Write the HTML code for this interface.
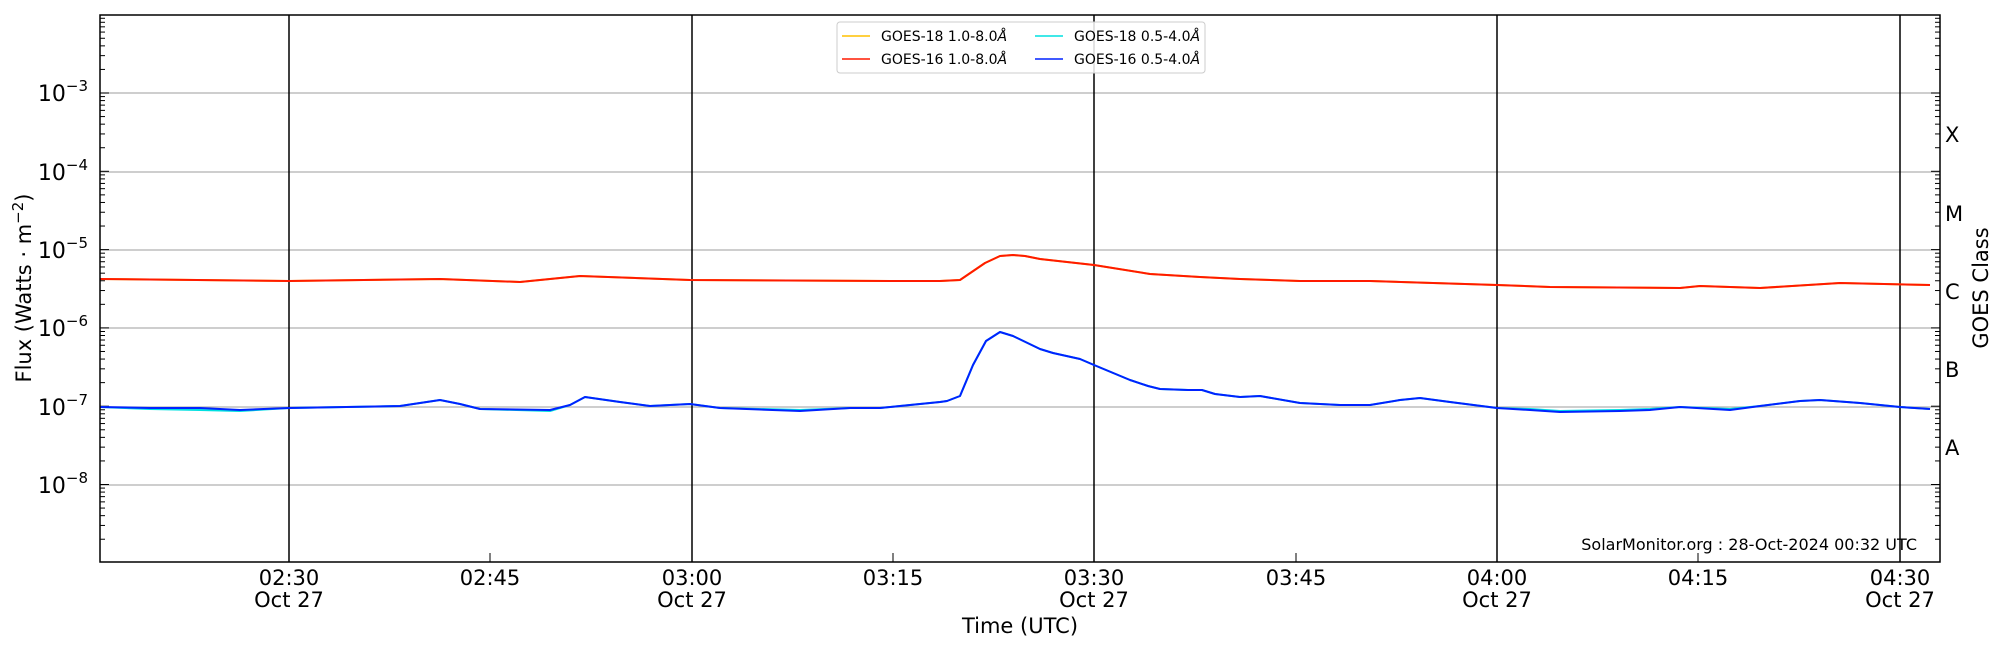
<!DOCTYPE html>
<html><head><meta charset="utf-8"><style>
html,body{margin:0;padding:0;background:#fff;}
svg{display:block;font-family:"DejaVu Sans","Liberation Sans",sans-serif;}
</style></head><body>
<svg id="s" width="2000" height="650" viewBox="0 0 2000 650" xmlns="http://www.w3.org/2000/svg">
<rect width="2000" height="650" fill="#fff"/>
<g stroke="#b0b0b0" stroke-width="1.2">
<line x1="100" x2="1940" y1="93" y2="93"/><line x1="100" x2="1940" y1="172" y2="172"/>
<line x1="100" x2="1940" y1="250" y2="250"/><line x1="100" x2="1940" y1="328" y2="328"/>
<line x1="100" x2="1940" y1="407" y2="407"/><line x1="100" x2="1940" y1="485" y2="485"/>
</g>
<g stroke="#000" stroke-width="1.5">
<line x1="289" x2="289" y1="15" y2="562"/><line x1="692" x2="692" y1="15" y2="562"/>
<line x1="1094" x2="1094" y1="15" y2="562"/><line x1="1497" x2="1497" y1="15" y2="562"/>
<line x1="1900" x2="1900" y1="15" y2="562"/>
</g>
<g id="ticks" stroke="#000" stroke-width="1"></g>
<g fill="none" stroke-width="2" stroke-linejoin="round">
<polyline stroke="#ffc000" points="100,279 289,281 440,279 520,282 580,276 690,280 900,281 940,281 960,280 985,263 1000,256 1013,255 1025,256 1040,259 1094,265 1150,274 1200,277 1240,279 1300,281 1370,281 1497,285 1550,287 1680,288 1700,286 1760,288 1840,283 1930,285"/>
<polyline stroke="#ff1a00" points="100,279 289,281 440,279 520,282 580,276 690,280 900,281 940,281 960,280 985,263 1000,256 1013,255 1025,256 1040,259 1094,265 1150,274 1200,277 1240,279 1300,281 1370,281 1497,285 1550,287 1680,288 1700,286 1760,288 1840,283 1930,285"/>
<polyline stroke="#00e0e0" points="100,407 150,409 200,410 240,411 289,408 400,406 440,400 460,404 480,409 550,411 570,405 585,397 620,402 650,406 690,404 720,408 800,410 850,408 880,408 900,406 940,402 947,401 960,396 973,365 986,341 1000,332 1013,336 1040,349 1053,353 1080,359 1094,365 1130,380 1148,386 1160,389 1188,390 1202,390 1215,394 1240,397 1260,396 1300,403 1340,405 1370,405 1400,400 1420,398 1450,402 1497,408 1530,409 1560,411 1620,410 1650,409 1680,407 1730,409 1760,406 1800,401 1820,400 1860,403 1900,407 1930,409"/>
<polyline stroke="#0022ff" points="100,407 150,408 200,408 240,410 289,408 400,406 440,400 460,404 480,409 550,410 570,405 585,397 620,402 650,406 690,404 720,408 800,411 850,408 880,408 900,406 940,402 947,401 960,396 973,365 986,341 1000,332 1013,336 1040,349 1053,353 1080,359 1094,365 1130,380 1148,386 1160,389 1188,390 1202,390 1215,394 1240,397 1260,396 1300,403 1340,405 1370,405 1400,400 1420,398 1450,402 1497,408 1530,410 1560,412 1620,411 1650,410 1680,407 1730,410 1760,406 1800,401 1820,400 1860,403 1900,407 1930,409"/>
</g>
<rect x="100" y="15" width="1840" height="547" fill="none" stroke="#000" stroke-width="1.5"/>
<rect x="837" y="22" width="368" height="51" rx="3" fill="#fff" fill-opacity="0.85" stroke="#ccc"/>
<g stroke-width="1.5"><line x1="842" x2="870" y1="36" y2="36" stroke="#ffc000"/><line x1="842" x2="870" y1="59" y2="59" stroke="#ff1a00"/>
<line x1="1035" x2="1063" y1="36" y2="36" stroke="#00e0e0"/><line x1="1035" x2="1063" y1="59" y2="59" stroke="#0022ff"/></g>
<g font-size="14" fill="#000"><text x="881" y="41">GOES-18 1.0-8.0<tspan font-style="italic">Å</tspan></text>
<text x="881" y="64">GOES-16 1.0-8.0<tspan font-style="italic">Å</tspan></text>
<text x="1074" y="41">GOES-18 0.5-4.0<tspan font-style="italic">Å</tspan></text>
<text x="1074" y="64">GOES-16 0.5-4.0<tspan font-style="italic">Å</tspan></text></g>
<g font-size="22" fill="#000" text-anchor="end">
<text x="88" y="101">10<tspan dy="-10" font-size="15">−3</tspan></text>
<text x="88" y="180">10<tspan dy="-10" font-size="15">−4</tspan></text>
<text x="88" y="258">10<tspan dy="-10" font-size="15">−5</tspan></text>
<text x="88" y="336">10<tspan dy="-10" font-size="15">−6</tspan></text>
<text x="88" y="415">10<tspan dy="-10" font-size="15">−7</tspan></text>
<text x="88" y="493">10<tspan dy="-10" font-size="15">−8</tspan></text>
</g>
<g font-size="21" fill="#000">
<text x="1945" y="142">X</text><text x="1945" y="221">M</text><text x="1945" y="299">C</text><text x="1945" y="377">B</text><text x="1945" y="455">A</text>
</g>
<text font-size="21" text-anchor="middle" transform="translate(1988,288) rotate(-90)">GOES Class</text>
<text font-size="21" text-anchor="middle" transform="translate(31,288) rotate(-90)">Flux (Watts · m<tspan dy="-8" font-size="15">−2</tspan><tspan dy="8">)</tspan></text>
<g font-size="21" text-anchor="middle" fill="#000">
<text x="289" y="585">02:30</text><text x="289" y="607">Oct 27</text>
<text x="490" y="585">02:45</text>
<text x="692" y="585">03:00</text><text x="692" y="607">Oct 27</text>
<text x="893" y="585">03:15</text>
<text x="1094" y="585">03:30</text><text x="1094" y="607">Oct 27</text>
<text x="1296" y="585">03:45</text>
<text x="1497" y="585">04:00</text><text x="1497" y="607">Oct 27</text>
<text x="1698" y="585">04:15</text>
<text x="1900" y="585">04:30</text><text x="1900" y="607">Oct 27</text>
<text x="1020" y="633">Time (UTC)</text>
</g>
<text x="1917" y="550" font-size="16" text-anchor="end">SolarMonitor.org : 28-Oct-2024 00:32 UTC</text>
</svg>
<script>
var g=document.getElementById('ticks'),h='';
var top=15,dec=78.3;
for(var d=0;d<7;d++){var base=93+(d-1)*dec;
for(var k=1;k<10;k++){var y=base+dec-Math.log10(k)*dec; if(y<top||y>562)continue;
var L=k==1?9:5;h+='<line x1="100" x2="'+(100+L)+'" y1="'+y+'" y2="'+y+'"/><line x1="1940" x2="'+(1940-L)+'" y1="'+y+'" y2="'+y+'"/>';}}
[289,490,692,893,1094,1296,1497,1698,1900].forEach(function(x){h+='<line x1="'+x+'" x2="'+x+'" y1="562" y2="553"/>';});
g.innerHTML=h;
</script>
</body></html>
